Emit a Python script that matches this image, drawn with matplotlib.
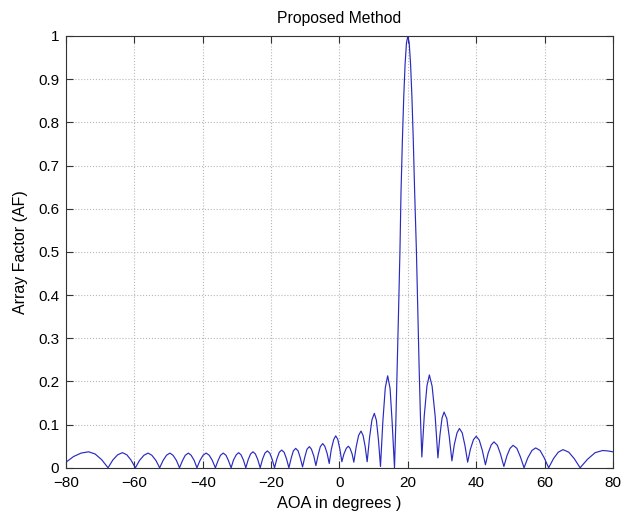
import matplotlib
matplotlib.use('Agg')
import matplotlib.pyplot as plt

# Fonte parecida com Arial
plt.rcParams['font.family'] = ['Liberation Sans', 'DejaVu Sans']

# Angulo de chegada (graus), lobulo por lobulo
aoa = [
    -80.0, -77.8, -75.6, -73.4, -71.5, -69.6, -67.7,
    -66.3, -64.9, -63.5, -62.2, -61.0, -59.7,
    -58.5, -57.2, -56.0, -54.9, -53.7, -52.6,
    -51.6, -50.6, -49.6, -48.7, -47.7, -46.8,
    -45.9, -45.1, -44.2, -43.4, -42.5, -41.7,
    -40.8, -39.9, -39.0, -38.1, -37.2, -36.3,
    -35.5, -34.8, -34.0, -33.2, -32.5, -31.7,
    -31.0, -30.2, -29.5, -28.8, -28.1, -27.4,
    -26.7, -26.0, -25.3, -24.6, -23.9, -23.2,
    -22.5, -21.8, -21.1, -20.4, -19.7, -19.0,
    -18.3, -17.6, -16.9, -16.2, -15.5, -14.8,
    -14.1, -13.5, -12.8, -12.1, -11.5, -10.8,
    -10.1, -9.5, -8.8, -8.2, -7.5, -6.9,
    -6.2, -5.6, -4.9, -4.3, -3.6, -3.0,
    -2.4, -1.7, -1.1, -0.5, 0.1, 0.7,
    1.3, 2.0, 2.6, 3.1, 3.7, 4.2,
    4.9, 5.6, 6.3, 6.9, 7.5, 8.1,
    8.8, 9.5, 10.2, 10.8, 11.4, 12.0,
    12.7, 13.4, 14.1, 14.8, 15.4, 16.1,
    16.5, 16.9, 17.3, 17.7, 18.0, 18.4, 18.8, 19.2, 19.6,
    20.0,
    20.4, 20.8, 21.2, 21.6, 22.0, 22.5, 22.9, 23.3, 23.7, 24.1,
    24.8, 25.6, 26.3, 27.1, 28.0, 28.8,
    29.4, 30.0, 30.6, 31.4, 32.1, 32.9,
    33.6, 34.4, 35.1, 35.9, 36.7, 37.5,
    38.3, 39.2, 40.0, 40.9, 41.8, 42.7,
    43.5, 44.4, 45.2, 46.2, 47.1, 48.1,
    49.0, 49.9, 50.8, 51.9, 52.9, 54.0,
    55.1, 56.3, 57.4, 58.7, 59.9, 61.2,
    62.6, 64.0, 65.4, 67.1, 68.7, 70.4,
    72.6, 74.8, 77.0, 78.5, 80.0,
]

# Fator de arranjo correspondente
af = [
    0.013, 0.026, 0.034, 0.037, 0.032, 0.019, 0.0,
    0.018, 0.030, 0.035, 0.030, 0.018, 0.0,
    0.017, 0.029, 0.034, 0.029, 0.017, 0.0,
    0.017, 0.029, 0.034, 0.029, 0.017, 0.0,
    0.017, 0.029, 0.034, 0.029, 0.017, 0.0,
    0.017, 0.029, 0.034, 0.029, 0.017, 0.0,
    0.017, 0.029, 0.034, 0.029, 0.017, 0.0,
    0.018, 0.030, 0.035, 0.030, 0.018, 0.0,
    0.019, 0.032, 0.037, 0.032, 0.019, 0.0,
    0.020, 0.034, 0.039, 0.034, 0.020, 0.0,
    0.021, 0.036, 0.041, 0.036, 0.021, 0.0,
    0.023, 0.039, 0.045, 0.039, 0.024, 0.002,
    0.026, 0.043, 0.049, 0.043, 0.027, 0.005,
    0.031, 0.049, 0.056, 0.050, 0.033, 0.010,
    0.042, 0.065, 0.074, 0.066, 0.044, 0.014,
    0.032, 0.045, 0.050, 0.045, 0.032, 0.013,
    0.049, 0.075, 0.085, 0.075, 0.050, 0.014,
    0.070, 0.111, 0.126, 0.110, 0.065, 0.003,
    0.108, 0.185, 0.213, 0.184, 0.107, 0.0,
    0.109, 0.234, 0.368, 0.505, 0.637, 0.757, 0.858, 0.935, 0.984,
    1.0,
    0.984, 0.935, 0.858, 0.757, 0.637, 0.505, 0.368, 0.234, 0.115, 0.025,
    0.120, 0.190, 0.215, 0.189, 0.119, 0.023,
    0.076, 0.115, 0.129, 0.114, 0.073, 0.016,
    0.054, 0.081, 0.091, 0.081, 0.052, 0.013,
    0.043, 0.065, 0.073, 0.064, 0.040, 0.007,
    0.034, 0.053, 0.060, 0.052, 0.032, 0.003,
    0.028, 0.045, 0.052, 0.045, 0.026, 0.0,
    0.023, 0.040, 0.046, 0.040, 0.023, 0.0,
    0.021, 0.036, 0.042, 0.036, 0.021, 0.0,
    0.020, 0.035, 0.040, 0.039, 0.037,
]

x_ticks = [-80, -60, -40, -20, 0, 20, 40, 60, 80]
y_ticks = [0, 0.1, 0.2, 0.3, 0.4, 0.5, 0.6, 0.7, 0.8, 0.9, 1]
y_tick_labels = ['0', '0.1', '0.2', '0.3', '0.4', '0.5', '0.6', '0.7', '0.8', '0.9', '1']

fig = plt.figure(figsize=(6.21, 5.15), dpi=100)
ax = fig.add_axes([0.1063, 0.0917, 0.8807, 0.8384])

# Curva do fator de arranjo
ax.plot(aoa, af, color='#2a2ac0', linewidth=0.85)

ax.set_xlim(-80, 80)
ax.set_ylim(0, 1)
ax.set_xticks(x_ticks)
ax.set_yticks(y_ticks)
ax.set_yticklabels(y_tick_labels)

# Estilo tipo MATLAB: ticks para dentro nos quatro lados
ax.tick_params(direction='in', length=5, width=0.8, top=True, right=True,
               labelsize=11, color='#333333')
ax.tick_params(axis='x', pad=6)
ax.tick_params(axis='y', pad=5)
for s in ax.spines.values():
    s.set_color('#333333')
    s.set_linewidth(0.8)

ax.grid(True, linestyle=':', color='#b8b8b8', linewidth=0.8)

ax.set_title('Proposed Method', fontsize=11.3, pad=9)
ax.set_xlabel('AOA in degrees )', fontsize=11.8, labelpad=4)
ax.set_ylabel('Array Factor (AF)', fontsize=11.5, labelpad=7)

plt.savefig('out.png', dpi=100)
plt.close()
